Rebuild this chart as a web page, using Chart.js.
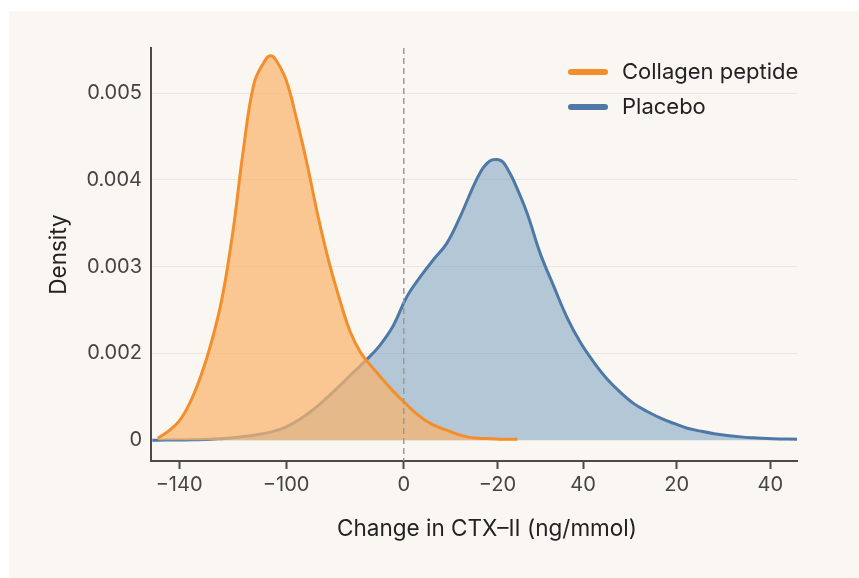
<!DOCTYPE html>
<html lang="en">
<head>
    <meta charset="UTF-8">
    <title>CTX-II change density</title>
    <script src="https://cdn.jsdelivr.net/npm/chart.js"></script>
    <style>
        html, body { margin: 0; padding: 0; background: #ffffff; }
        #panel { position: absolute; left: 9px; top: 11px; width: 850px; height: 567px; background: #faf7f3; }
        #wrap { position: absolute; left: 0; top: 0; width: 859px; height: 578px; }
    </style>
</head>
<body>
    <div id="panel"></div>
    <div id="wrap"><canvas id="densityChart" width="859" height="578"></canvas></div>

    <script>
        // x positions of the ticks and the (odd) labels printed under them
        const xTickValues = [-140, -100, -56, -21, 11, 46, 81];
        const xTickLabels = ['\u2212140', '\u2212100', '0', '\u221220', '40', '20', '40'];

        // y ticks and their printed labels
        const yTickValues = [0, 0.001, 0.002, 0.003, 0.004];
        const yTickLabels = ['0', '0.002', '0.003', '0.004', '0.005'];

        // Collagen peptide density curve
        const collagenX = [-148, -144, -140, -136, -132, -128, -124, -120, -116, -112, -108, -106, -104, -100, -96, -92, -88, -84,
            -80, -76, -72, -68, -64, -60, -56, -52, -48, -44, -40, -36, -32, -28, -24, -20, -16, -13.5];
        const collagenY = [0.000023, 0.000104, 0.000219, 0.000427, 0.000727, 0.001119, 0.001626, 0.002376, 0.00334, 0.00411, 0.00437, 0.00443, 0.00439, 0.00415, 0.003691, 0.00316, 0.002572, 0.002059,
            0.001626, 0.001246, 0.001003, 0.000848, 0.000704, 0.000565, 0.000444, 0.000323, 0.000231, 0.000161, 0.000115, 0.000069, 0.000035, 0.000023, 0.000017, 0.000012, 0.000012, 0.000012];

        // Placebo density curve
        const placeboX = [-150, -145, -140, -135, -130, -125, -120, -115, -110, -105, -100, -95, -90, -85, -80, -75, -70, -65, -60, -55,
            -50, -45, -40, -35, -30, -27, -25, -23, -21, -19, -17, -15, -10, -5, 0, 5, 10, 15, 20, 25, 30, 35, 40, 45, 50, 55, 60, 65, 70, 75, 80, 85, 91];
        const placeboY = [0, 0.000001, 0.000002, 0.000005, 0.000008, 0.000016, 0.000027, 0.000044, 0.000068, 0.000098, 0.000154, 0.000238, 0.000348, 0.000481, 0.000626, 0.000777, 0.000925, 0.00109, 0.001315, 0.001645,
            0.001876, 0.002077, 0.002265, 0.00257, 0.002926, 0.003107, 0.003188, 0.00323, 0.003234, 0.003208, 0.003114, 0.002996, 0.002624, 0.002153, 0.001778, 0.001416, 0.001128, 0.0009, 0.000705, 0.00055,
            0.000421, 0.000331, 0.000255, 0.000193, 0.000138, 0.000104, 0.000075, 0.000054, 0.000038, 0.000027, 0.000018, 0.000014, 0.000012];

        const seriesNames = ['Collagen peptide', 'Placebo'];
        const xTitle = 'Change in CTX\u2013II (ng/mmol)';

        const FONT = 'Inter, "Noto Sans", sans-serif';

        const toPoints = (xs, ys) => xs.map((x, i) => ({ x: x, y: ys[i] }));

        // vertical dashed reference line at the "0" tick
        const refLine = {
            id: 'refLine',
            afterDatasetsDraw(chart) {
                const { ctx, chartArea, scales } = chart;
                const x = scales.x.getPixelForValue(xTickValues[2]);
                ctx.save();
                ctx.strokeStyle = '#9a9a9a';
                ctx.lineWidth = 1.5;
                ctx.setLineDash([6, 4]);
                ctx.beginPath();
                ctx.moveTo(x, chartArea.top);
                ctx.lineTo(x, chartArea.bottom);
                ctx.stroke();
                ctx.restore();
            }
        };

        // legend inside the plot (top right) and the x axis title, which sits a little right of centre
        const extras = {
            id: 'extras',
            afterDraw(chart) {
                const { ctx, chartArea } = chart;
                const x0 = chartArea.right - 229;
                let y = chartArea.top + 24;
                ctx.save();
                chart.data.datasets.forEach(ds => {
                    ctx.strokeStyle = ds.borderColor;
                    ctx.lineWidth = 6;
                    ctx.lineCap = 'round';
                    ctx.beginPath();
                    ctx.moveTo(x0 + 3, y);
                    ctx.lineTo(x0 + 37, y);
                    ctx.stroke();
                    ctx.fillStyle = '#222222';
                    ctx.font = '22px ' + FONT;
                    ctx.textBaseline = 'middle';
                    ctx.textAlign = 'left';
                    ctx.fillText(ds.label, x0 + 54, y);
                    y += 35;
                });

                ctx.fillStyle = '#222222';
                ctx.font = '22.5px ' + FONT;
                ctx.textAlign = 'center';
                ctx.textBaseline = 'middle';
                ctx.fillText(xTitle, (chartArea.left + chartArea.right) / 2 + 13, chartArea.bottom + 68);
                ctx.restore();
            }
        };

        const ctx = document.getElementById('densityChart').getContext('2d');
        const chart = new Chart(ctx, {
            type: 'line',
            data: {
                datasets: [
                    {
                        label: seriesNames[0],
                        data: toPoints(collagenX, collagenY),
                        borderColor: '#f28e2b',
                        backgroundColor: 'rgba(250,180,110,0.72)',
                        borderWidth: 3,
                        fill: 'origin',
                        pointRadius: 0,
                        tension: 0.4
                    },
                    {
                        label: seriesNames[1],
                        data: toPoints(placeboX, placeboY),
                        borderColor: '#4e79a7',
                        backgroundColor: 'rgba(120,160,190,0.55)',
                        borderWidth: 3,
                        fill: 'origin',
                        pointRadius: 0,
                        tension: 0.4
                    }
                ]
            },
            options: {
                responsive: false,
                animation: false,
                layout: { padding: { left: 0, top: 48, right: 62, bottom: 0 } },
                plugins: {
                    legend: { display: false },
                    tooltip: { enabled: false }
                },
                scales: {
                    x: {
                        type: 'linear',
                        min: -150.5,
                        max: 91,
                        afterBuildTicks: (scale) => { scale.ticks = xTickValues.map(v => ({ value: v })); },
                        afterFit: (scale) => { scale.height = 117; },
                        ticks: {
                            callback: (value, index) => xTickLabels[index],
                            color: '#444444',
                            font: { family: FONT, size: 20 },
                            padding: 4,
                            maxRotation: 0
                        },
                        grid: {
                            drawOnChartArea: false,
                            drawTicks: true,
                            tickLength: 8,
                            tickWidth: 2,
                            tickColor: '#4a4a4a'
                        },
                        border: { display: true, color: '#4a4a4a', width: 2 },
                        title: { display: false }
                    },
                    y: {
                        min: -0.00024,
                        max: 0.00452,
                        afterBuildTicks: (scale) => { scale.ticks = yTickValues.map(v => ({ value: v })); },
                        afterFit: (scale) => { scale.width = 151; },
                        ticks: {
                            callback: (value, index) => yTickLabels[index],
                            color: '#444444',
                            font: { family: FONT, size: 20 },
                            padding: 9
                        },
                        grid: {
                            drawTicks: false,
                            color: (c) => (c.tick && c.tick.value === 0 ? 'rgba(0,0,0,0)' : '#e9e5e0'),
                            lineWidth: 1
                        },
                        border: { display: true, color: '#4a4a4a', width: 2 },
                        title: {
                            display: true,
                            text: 'Density',
                            color: '#222222',
                            font: { family: FONT, size: 22.5 },
                            padding: { top: 45.5, bottom: 0 }
                        }
                    }
                }
            },
            plugins: [refLine, extras]
        });
    </script>
</body>
</html>
